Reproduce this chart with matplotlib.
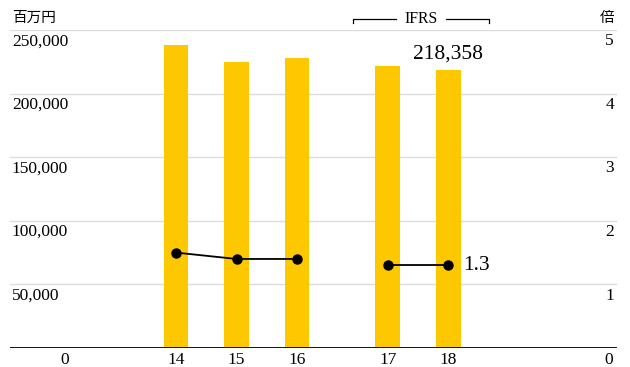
import matplotlib.pyplot as plt
from matplotlib.transforms import blended_transform_factory

years = ["14", "15", "16", "17", "18"]
positions = [0, 1, 2, 3.5, 4.5]
revenue = [238000, 224800, 228000, 221700, 218358]
ratio = [1.5, 1.4, 1.4, 1.3, 1.3]
left_ticks = [50000, 100000, 150000, 200000, 250000]
right_ticks = [1, 2, 3, 4, 5]

SERIF = ["Liberation Serif", "DejaVu Serif"]
CJK = ["Noto Sans CJK JP", "DejaVu Sans"]
BAR_COLOR = "#fdc800"

fig = plt.figure(figsize=(6.3, 3.67), dpi=100)
ax = fig.add_axes([10 / 630, 1 - 348 / 367, 607 / 630, 318 / 367])
ax2 = ax.twinx()

ax.set_xlim(-2.744, 7.289)
ax.set_ylim(0, 250000)
ax2.set_ylim(0, 5)

for a in (ax, ax2):
    for s in a.spines.values():
        s.set_visible(False)
    a.set_xticks([])
    a.set_yticks([])

# grid lines
for v in left_ticks:
    ax.axhline(v, color="#dcdcdc", lw=1.0, zorder=0)
ax.axhline(0, color="black", lw=1.3, zorder=3)

ax.bar(positions, revenue, width=0.41, color=BAR_COLOR, zorder=2)

# ratio line, broken between JGAAP and IFRS
ax2.plot(positions[:3], ratio[:3], color="black", lw=1.3, marker="o", ms=6.5, zorder=4)
ax2.plot(positions[3:], ratio[3:], color="black", lw=1.3, marker="o", ms=6.5, zorder=4)

# left tick labels below each gridline
tl = blended_transform_factory(ax.transAxes, ax.transData)
for v in left_ticks:
    ax.text(0.003, v - 2500, f"{v:,}", transform=tl, ha="left", va="top",
            fontsize=12.5, family=SERIF)
ax.text(0.09, -3500, "0", transform=tl, ha="center", va="top", fontsize=12.5, family=SERIF)

tr = blended_transform_factory(ax2.transAxes, ax2.transData)
for v in right_ticks:
    ax2.text(0.995, v - 0.05, str(v), transform=tr, ha="right", va="top",
             fontsize=12.5, family=SERIF)
ax2.text(0.987, -0.07, "0", transform=tr, ha="center", va="top", fontsize=12.5, family=SERIF)

# x labels
for p, y in zip(positions, years):
    ax.text(p, -3500, y, ha="center", va="top", fontsize=12.5, family=SERIF)

# value annotations
ax.text(positions[-1], revenue[-1] + 5000, f"{revenue[-1]:,}", ha="center", va="bottom",
        fontsize=15.5, family=SERIF)
ax2.text(positions[-1] + 0.25, ratio[-1], f"{ratio[-1]}", ha="left", va="center",
         fontsize=15.5, family=SERIF)

# unit labels
fig.text(12 / 630, 1 - 18 / 367, "百万円", ha="left", va="center", fontsize=10.5, family=CJK)
fig.text(614 / 630, 1 - 18 / 367, "倍", ha="right", va="center", fontsize=10.5, family=CJK)

# IFRS bracket
yb = 1 - 19 / 367
ytk = 1 - 23 / 367
fig.text(421 / 630, yb, "IFRS", ha="center", va="center", fontsize=11.3, family=SERIF)
fig.add_artist(plt.Line2D([353 / 630, 353 / 630, 396 / 630], [ytk, yb, yb],
                          color="black", lw=0.9))
fig.add_artist(plt.Line2D([446 / 630, 489 / 630, 489 / 630], [yb, yb, ytk],
                          color="black", lw=0.9))

fig.savefig("out.png", dpi=100)
